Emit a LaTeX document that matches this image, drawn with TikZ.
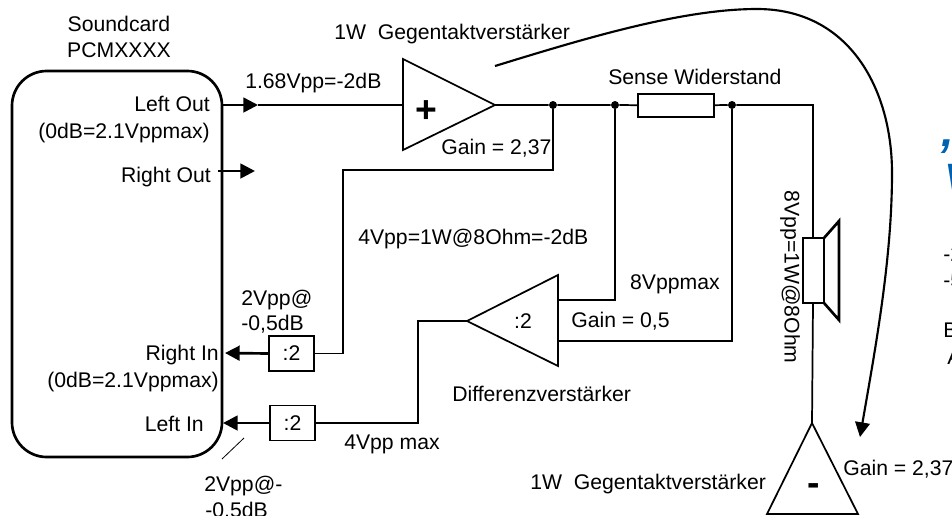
\documentclass[tikz,border=0pt]{standalone}
\usepackage{fontspec}
\setmainfont{Liberation Sans}
\usetikzlibrary{arrows.meta}
\tikzset{
	wire/.style={line width=1.3pt},
	heavy/.style={line width=2pt},
	signal/.style={heavy,-{Triangle[length=11pt,width=11pt]}},
	divider/.style={draw,line width=1.2pt,inner sep=0pt,minimum width=33.5pt,minimum height=26.5pt,font=\fontsize{15.9}{19.5}\selectfont},
	junction/.style={circle,fill=black,inner sep=0pt,minimum size=6pt},
	txt/.style={inner sep=0pt,font=\fontsize{15.9}{19.5}\selectfont},
	lbl/.style={txt,yshift=-2.4pt},
	sign/.style={inner sep=0pt,font=\fontsize{28}{28}\selectfont\bfseries},
	title/.style={inner sep=0pt,anchor=base west,text=blue!45!cyan!70!black,font=\fontsize{34}{40}\selectfont\bfseries\itshape},
}
\begin{document}
\begin{tikzpicture}[x=0.75pt,y=-0.75pt]
			\useasboundingbox (0,0) rectangle (952,515);
			\clip (0,0) rectangle (952,515);
			% soundcard
			\node[draw,heavy,rounded corners=26pt,minimum width=157.5pt,minimum height=289.5pt,inner sep=0pt] (soundcard) at (117,264) {};
			\node[txt] (cardname) at (119,24) {Soundcard};
			\node[txt] (cardtype) at (119,50) {PCMXXXX};
			\node[lbl,anchor=mid east] (leftout) at (210,105) {Left Out};
			\node[lbl,anchor=mid east] (leftoutmax) at (210,132) {(0dB=2.1Vppmax)};
			\node[lbl,anchor=mid east] (rightout) at (211,176) {Right Out};
			\node[lbl,anchor=mid east] (rightin) at (219,354) {Right In};
			\node[lbl,anchor=mid east] (rightinmax) at (219,381) {(0dB=2.1Vppmax)};
			\node[lbl,anchor=mid east] (leftin) at (204,425) {Left In};
			% amplifiers
			\coordinate (ampplusin) at (403,105);
			\coordinate (ampplusout) at (495,105);
			\draw[wire] (403,59) -- (ampplusout) -- (403,150) -- cycle;
			\node[sign] (plus) at (426,112) {+};
			\coordinate (diffout) at (467,321);
			\coordinate (diffplus) at (558,300);
			\coordinate (diffminus) at (558,341);
			\draw[wire] (diffout) -- (558,275) -- (558,366) -- cycle;
			\node[txt] (difftwo) at (523,321) {:2};
			\coordinate (ampminusin) at (812,423);
			\draw[wire] (ampminusin) -- (858,514) -- (767,514) -- cycle;
			\node[sign] (minus) at (814,490) {-};
			% sense resistor, speaker
			\node[draw,wire,inner sep=0pt,minimum width=57pt,minimum height=17pt] (sense) at (676,105.5) {};
			\node[junction] (dotamp) at (553,105) {};
			\node[junction] (dotsenseleft) at (615,105) {};
			\node[junction] (dotsenseright) at (732,105) {};
			\coordinate (speakertop) at (813,238);
			\coordinate (speakerbot) at (813,303);
			\draw[heavy] (803,238) rectangle (824,303);
			\draw[heavy] (824,238) -- (839,221) -- (839,320) -- (824,303);
			% dividers
			\node[divider] (divright) at (291.5,353.5) {:2};
			\node[divider] (divleft) at (292.5,423) {:2};
			\coordinate (rightintip) at (225,353);
			\coordinate (leftintip) at (223,423);
			\coordinate (rightoutstart) at (218,171);
			\coordinate (rightouttip) at (255,171);
			\coordinate (leftouttip) at (258,105);
			% connectors
			\draw[signal] (soundcard.east |- leftouttip) -- (leftouttip);
			\draw[wire] (leftouttip) -- (ampplusin);
			\draw[signal] (rightoutstart) -- (rightouttip);
			\draw[wire] (ampplusout) -- (dotamp) -- (dotsenseleft) -- (sense);
			\draw[wire] (sense) -- (dotsenseright) -- (dotsenseright -| speakertop) -- (speakertop);
			\draw[wire] (dotamp) |- (343,170) |- (divright.east);
			\draw[signal] (divright.west) -- (rightintip);
			\draw[wire] (diffplus) -| (dotsenseleft);
			\draw[wire] (diffminus) -| (dotsenseright);
			\draw[wire] (diffout) -- (418,321) |- (divleft.east);
			\draw[signal] (divleft.west) -- (leftintip);
			\draw[wire] (speakerbot) -- (ampminusin);
			\coordinate (curvestart) at (495,66);
			\coordinate (curvetip) at (860,437);
			\draw[line width=1.6pt,-{Triangle[length=11pt,width=11pt]}] (curvestart) .. controls (580,40) and (680,9) .. (757,9) .. controls (850,9) and (892,90) .. (892,173) .. controls (892,260) and (875,350) .. (curvetip);
			\coordinate (tickfrom) at (222,459);
			\coordinate (tickto) at (244,438);
			\draw[line width=0.6pt] (tickfrom) -- (tickto);
			% labels
			\node[lbl,anchor=mid west] (levelin) at (245,82) {1.68Vpp=-2dB};
			\node[lbl,anchor=mid west] (ampplusname) at (334,33) {1W\ \ Gegentaktverstärker};
			\node[lbl,anchor=mid west] (gainplus) at (441,148) {Gain = 2,37};
			\node[lbl,anchor=mid west] (sensename) at (608,78) {Sense Widerstand};
			\node[lbl,anchor=mid west] (levelfeed) at (358,238) {4Vpp=1W@8Ohm=-2dB};
			\node[lbl,anchor=mid west] (levelrighta) at (241,299) {2Vpp@};
			\node[lbl,anchor=mid west] (levelrightb) at (241,324) {-0,5dB};
			\node[lbl,anchor=mid west] (levellefta) at (204,485) {2Vpp@-};
			\node[lbl,anchor=mid west] (levelleftb) at (205,511) {-0,5dB};
			\node[lbl,anchor=mid west] (leveldiff) at (344,443) {4Vpp max};
			\node[lbl,anchor=mid east] (levelsense) at (720,283) {8Vppmax};
			\node[lbl,anchor=mid west] (gaindiff) at (571,321) {Gain = 0,5};
			\node[lbl,anchor=mid west] (diffname) at (452,395) {Differenzverstärker};
			\node[lbl,anchor=mid west] (ampminusname) at (530,483) {1W\ \ Gegentaktverstärker};
			\node[lbl,anchor=mid west] (gainminus) at (843,469) {Gain = 2,37};
			\node[txt,rotate=-90] (levelspeaker) at (790,277) {8Vpp=1W@8Ohm};
			% cut off at the right edge
			\node[title] (headcomma) at (941,146) {,};
			\node[title] (headv) at (944,195) {V};
			\node[lbl,anchor=mid west] (cuta) at (943,255) {-2};
			\node[lbl,anchor=mid west] (cutb) at (943,281) {-5};
			\node[lbl,anchor=mid west] (cutc) at (943,331) {B};
			\node[lbl,anchor=mid west] (cutd) at (947,358) {A};
		\end{tikzpicture}
\end{document}
